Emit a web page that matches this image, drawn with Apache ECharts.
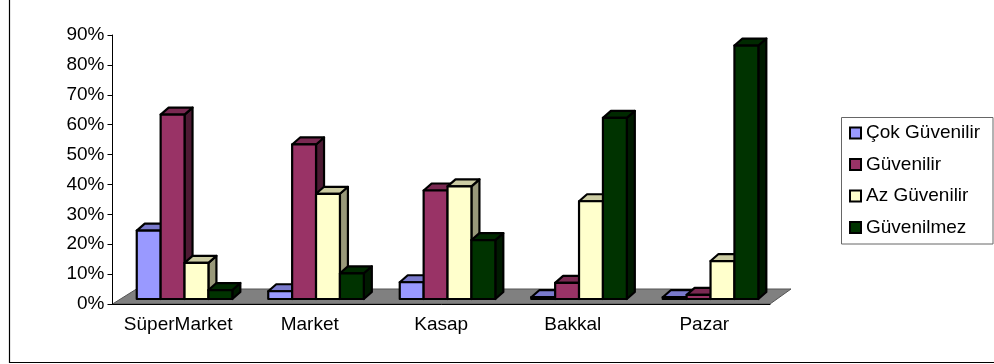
<!DOCTYPE html>
<html>
<head>
<meta charset="utf-8">
<script src="https://cdn.jsdelivr.net/npm/echarts@6/dist/echarts.min.js"></script>
<style>
  html, body { margin: 0; padding: 0; background: #fff; }
  #chart { width: 994px; height: 364px; }
</style>
</head>
<body>
<div id="chart"></div>
<script>
// Güven anketi: kategori başına yanıt dağılımı (%)
const categories = ['SüperMarket', 'Market', 'Kasap', 'Bakkal', 'Pazar'];
const seriesNames = ['Çok Güvenilir', 'Güvenilir', 'Az Güvenilir', 'Güvenilmez'];
const cokGuvenilir = [22.9, 2.6, 5.6, 0.6, 0.6];
const guvenilir = [61.7, 51.7, 36.3, 5.4, 1.4];
const azGuvenilir = [12.1, 35.2, 37.7, 32.7, 12.7];
const guvenilmez = [3.0, 8.6, 19.7, 60.6, 84.8];
const yMin = 0, yMax = 90, yStep = 10;

const seriesValues = [cokGuvenilir, guvenilir, azGuvenilir, guvenilmez];
const palette = ['#9999FF', '#993366', '#FFFFCC', '#003300'];

function shade(hex, f) {
  const n = parseInt(hex.slice(1), 16);
  const r = Math.round(((n >> 16) & 255) * f);
  const g = Math.round(((n >> 8) & 255) * f);
  const b = Math.round((n & 255) * f);
  return 'rgb(' + r + ',' + g + ',' + b + ')';
}

// 3D column look: front face, top face and right side
const DEPTH_X = 8, DEPTH_Y = -7, LIFT = 5;
function barRenderer(k) {
  return function (params, api) {
    const c = api.value(0), v = api.value(1);
    const base = api.coord([c, 0]);
    const top = api.coord([c, v]);
    const band = api.size([1, 0])[0];
    const w = band * 0.1817;
    const left = base[0] - band * 0.3156 + k * w;
    const yB = base[1] - LIFT;
    const yT = top[1] - LIFT;
    const col = palette[k];
    const stroke = { stroke: '#000', lineWidth: 2.2, lineJoin: 'round' };
    return {
      type: 'group',
      children: [
        { type: 'polygon', shape: { points: [[left + w, yT], [left + w + DEPTH_X, yT + DEPTH_Y], [left + w + DEPTH_X, yB + DEPTH_Y], [left + w, yB]] },
          style: Object.assign({ fill: shade(col, k === 2 ? 0.6 : 0.5) }, stroke) },
        { type: 'polygon', shape: { points: [[left, yT], [left + DEPTH_X, yT + DEPTH_Y], [left + w + DEPTH_X, yT + DEPTH_Y], [left + w, yT]] },
          style: Object.assign({ fill: shade(col, 0.8) }, stroke) },
        { type: 'rect', shape: { x: left, y: yT, width: w, height: yB - yT },
          style: Object.assign({ fill: col }, stroke) }
      ]
    };
  };
}

function floorRenderer(params, api) {
  const cs = params.coordSys;
  const y0 = api.coord([0, 0])[1];
  const x0 = cs.x, x1 = cs.x + cs.width;
  return {
    type: 'polygon',
    shape: { points: [[x0, y0], [x1, y0], [x1 + 21, y0 - 15], [x0 + 24, y0 - 15]] },
    style: { fill: '#808080', stroke: '#555', lineWidth: 1 }
  };
}

const series = [{
  type: 'custom',
  name: '__floor',
  z: 1,
  silent: true,
  renderItem: floorRenderer,
  data: [[0, 0]],
  encode: { x: 0, y: 1 }
}];
seriesNames.forEach(function (name, k) {
  series.push({
    type: 'custom',
    name: name,
    z: 2 + k,
    itemStyle: { color: palette[k] },
    renderItem: barRenderer(k),
    encode: { x: 0, y: 1 },
    data: seriesValues[k].map(function (v, i) { return [i, v]; })
  });
});

const chart = echarts.init(document.getElementById('chart'), null, { renderer: 'canvas' });
chart.setOption({
  animation: false,
  backgroundColor: '#fff',
  textStyle: { fontFamily: 'Liberation Sans, Arial, sans-serif' },
  grid: { left: 112.5, top: 35, width: 657.5, height: 269 },
  xAxis: {
    type: 'category',
    data: categories,
    boundaryGap: true,
    z: 10,
    axisLine: { lineStyle: { color: '#000', width: 1 } },
    axisTick: { length: 5, lineStyle: { color: '#000' } },
    axisLabel: { interval: 0, color: '#000', fontSize: 19, margin: 11, fontFamily: 'Liberation Sans' },
    splitLine: { show: false }
  },
  yAxis: {
    type: 'value',
    min: yMin, max: yMax, interval: yStep,
    z: 10,
    axisLine: { show: true, lineStyle: { color: '#000', width: 1 } },
    axisTick: { show: true, length: 5, lineStyle: { color: '#000' } },
    axisLabel: { color: '#000', fontSize: 19, margin: 8, formatter: '{value}%', fontFamily: 'Liberation Sans' },
    splitLine: { show: false }
  },
  legend: {
    data: seriesNames,
    orient: 'vertical',
    left: 849, top: 123,
    padding: 0,
    itemGap: 11.5,
    itemWidth: 11, itemHeight: 11,
    icon: 'rect',
    itemStyle: { borderColor: '#000', borderWidth: 2 },
    textStyle: { color: '#000', fontSize: 19, lineHeight: 20, fontFamily: 'Liberation Sans' }
  },
  graphic: [
    { type: 'rect', silent: true, z: -10,
      shape: { x: 9.5, y: -10, width: 1010, height: 372.5 },
      style: { fill: 'none', stroke: '#000', lineWidth: 1.2 } },
    { type: 'rect', silent: true, z: -9,
      shape: { x: 841.5, y: 117.5, width: 151.5, height: 126.5 },
      style: { fill: '#fff', stroke: '#666', lineWidth: 1 } }
  ],
  series: series
});
</script>
</body>
</html>
